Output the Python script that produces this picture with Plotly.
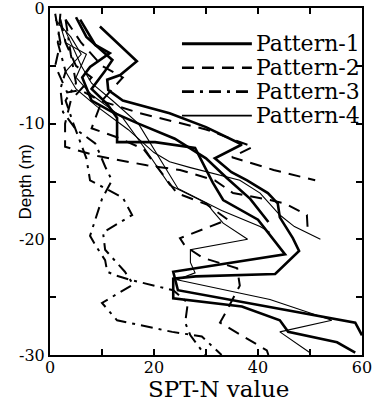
import plotly.graph_objects as go

# ---------------- data (SPT-N value, depth in m) ----------------
# Pattern-1 (thick solid)
p1_a_n = [9.6, 16.7, 13.5, 11, 11.2, 14, 23, 30, 36.9, 31.7, 34.9, 37.9, 41.9, 43.8, 44.2, 46.7, 47.9, 43.3, 28, 23.7, 23.7, 36.9, 44.2, 45.8, 55.2, 58.7]
p1_a_d = [-1.6, -4.6, -5.8, -6.2, -7.1, -8, -9.1, -10.3, -11.8, -13, -14.2, -14.9, -16, -16.9, -18.1, -19.9, -21, -23, -23.2, -23.4, -25.1, -25.8, -27, -28, -28.9, -29.8]
p1_b_n = [5, 7, 12, 10.5, 8, 11, 12.9, 12.9, 20.2, 23, 27.9, 31.3, 33.3, 40, 45.2, 23.7, 24.6, 58.7, 60]
p1_b_d = [-0.8, -2.5, -4.5, -5.5, -7, -8.3, -9.5, -11.6, -11.6, -11.8, -12.1, -15.1, -16.6, -18.3, -21.3, -22.8, -24.4, -27.2, -28.3]
p1_c_n = [5.8, 8.7, 11.5, 7.7, 6.2, 8, 12, 17, 24, 30, 34, 38.5, 42]
p1_c_d = [-1, -3.2, -3.9, -5.1, -6, -8, -9, -10, -11.3, -13, -14.7, -16.5, -18.5]

# Pattern-2 (dashed)
p2_a_n = [1, 2, 1, 3.3, 5.8, 9.6, 17.3, 22.5, 30, 39, 35, 43, 51]
p2_a_d = [-0.5, -3, -5, -7.3, -7.1, -8, -9.1, -9.7, -10.5, -12, -12.9, -14, -14.9]
p2_b_n = [2, 3, 5, 8, 4, 2.9, 2.9, 9.2, 18.6, 25, 31.7, 35.2, 42.3, 45.2, 49.4, 49.6]
p2_b_d = [-1, -3, -5, -6, -8, -10, -12, -12.8, -13.6, -14, -14.9, -16, -16.6, -16.9, -17.9, -19.5]
p2_c_n = [3, 6, 10, 14, 10, 8, 13, 18, 24.4, 30.2, 34.2, 25, 26, 29.4, 36, 36.5, 33.7, 32.7, 41.7, 42]
p2_c_d = [-1, -3, -5, -6, -8, -10.4, -11.2, -12.2, -16, -17, -18.3, -19.9, -20.6, -21.6, -22.5, -24, -26.4, -27.2, -29.6, -30]

# Pattern-3 (dash-dot)
p3_a_n = [2, 1.5, 3, 2, 2.5, 5, 8.7, 10.6, 11.9, 10, 7.7, 9, 10.6, 11, 12.5, 15.4, 23.7, 26.5, 26, 27, 29.8]
p3_a_d = [-0.5, -3, -5.5, -7, -9, -10.5, -11.7, -13.7, -14.9, -16.5, -19.7, -20.7, -21.8, -22.8, -23.1, -23.5, -24.4, -25.5, -27.2, -28.3, -30]
p3_b_n = [3, 4, 5, 3, 4.5, 7, 7.7, 11.2, 14, 15.8, 10.2, 10.6, 14.4, 16, 10, 12.9, 23.5, 29.2, 33]
p3_b_d = [-1, -4, -6.5, -8, -10, -13, -14.9, -15.7, -16.4, -17.9, -19.4, -20.9, -22.8, -23.9, -25.5, -27, -28, -28.4, -30]

# Pattern-4 (thin solid)
p4_a_n = [1, 4, 6, 3, 5, 9, 15, 20, 23, 27, 36.5, 40.4, 44.2, 47, 52]
p4_a_d = [-1, -2.5, -4, -5.5, -7, -8.5, -10.5, -12.5, -13.3, -13.8, -14.9, -16, -17.9, -18.9, -20]
p4_b_n = [2, 3, 7, 5, 8, 14, 18, 23, 30.2, 31.2, 33.3, 38, 27, 27, 27.9, 24.4, 42.3, 54.2, 44.2, 50]
p4_b_d = [-1.5, -3, -4, -6, -7.5, -9.5, -12, -15.3, -16.9, -17.5, -18.6, -20, -20.9, -22, -22.9, -23.5, -25.2, -27, -28, -29.8]
p4_c_n = [3, 6, 8, 12, 17, 21, 24.6, 33, 40.4, 42.3]
p4_c_d = [-2, -5, -6.5, -8, -10, -13, -15.6, -17.5, -18.9, -19.4]

x_tick_vals = [0, 10, 20, 30, 40, 50, 60]
x_tick_text = ["0", "", "20", "", "40", "", "60"]
y_tick_vals = [0, -5, -10, -15, -20, -25, -30]
y_tick_text = ["0", "", "-10", "", "-20", "", "-30"]

legend_names = ["Pattern-1", "Pattern-2", "Pattern-3", "Pattern-4"]
x_title = "SPT-N value"
y_title = "Depth (m)"

SERIF = "DejaVu Serif"
SANS = "Liberation Sans, Arial, DejaVu Sans, sans-serif"

# ---------------- styles ----------------
styles = {
    "Pattern-1": dict(width=2.6, dash="solid"),
    "Pattern-2": dict(width=2.0, dash="12px,8px"),
    "Pattern-3": dict(width=2.0, dash="12px,6px,3px,6px"),
    "Pattern-4": dict(width=1.1, dash="solid"),
}

series = [
    ("Pattern-1", p1_a_n, p1_a_d), ("Pattern-1", p1_b_n, p1_b_d), ("Pattern-1", p1_c_n, p1_c_d),
    ("Pattern-2", p2_a_n, p2_a_d), ("Pattern-2", p2_b_n, p2_b_d), ("Pattern-2", p2_c_n, p2_c_d),
    ("Pattern-3", p3_a_n, p3_a_d), ("Pattern-3", p3_b_n, p3_b_d),
    ("Pattern-4", p4_a_n, p4_a_d), ("Pattern-4", p4_b_n, p4_b_d), ("Pattern-4", p4_c_n, p4_c_d),
]

fig = go.Figure()
for name, xs, ys in series:
    st = styles[name]
    fig.add_trace(go.Scatter(x=xs, y=ys, mode="lines", showlegend=False,
                             line=dict(color="black", width=st["width"], dash=st["dash"])))

# manual legend (paper coordinates)
row_y = [0.897, 0.828, 0.759, 0.690]
for name, yy in zip(legend_names, row_y):
    st = styles[name]
    fig.add_trace(go.Scatter(x=[0.423, 0.647], y=[yy, yy], xaxis="x2", yaxis="y2", mode="lines",
                             showlegend=False, hoverinfo="skip",
                             line=dict(color="black", width=st["width"] + 0.6, dash=st["dash"])))
    fig.add_annotation(x=0.655, y=yy, xref="paper", yref="paper", text=name, showarrow=False,
                       xanchor="left", yanchor="middle",
                       font=dict(family=SERIF, size=22, color="black"))

# axis titles as annotations for precise placement
fig.add_annotation(x=0.54, y=-0.138, xref="paper", yref="paper", text=x_title, showarrow=False,
                   xanchor="center", yanchor="bottom", borderpad=0,
                   font=dict(family=SERIF, size=23, color="black"))
fig.add_annotation(x=-0.08, y=0.50, xref="paper", yref="paper", text=y_title, showarrow=False,
                   textangle=-90, xanchor="center", yanchor="middle",
                   font=dict(family=SANS, size=17, color="black"))

axis_common = dict(showgrid=False, zeroline=False, showline=True, linecolor="black", linewidth=2,
                   mirror="ticks", ticks="inside", ticklen=6, tickwidth=1.5, tickcolor="black",
                   automargin=False, ticklabeloverflow="allow",
                   tickfont=dict(family=SERIF, size=16, color="black"))

fig.update_layout(
    width=373, height=403,
    margin=dict(l=50, r=11, t=8, b=48, autoexpand=False),
    paper_bgcolor="white", plot_bgcolor="white",
    xaxis=dict(range=[0, 60], tickvals=x_tick_vals, ticktext=x_tick_text, ticklabelstandoff=-3,
               **axis_common),
    yaxis=dict(range=[-30, 0], tickvals=y_tick_vals, ticktext=y_tick_text, **axis_common),
    xaxis2=dict(range=[0, 1], domain=[0, 1], visible=False, overlaying="x"),
    yaxis2=dict(range=[0, 1], domain=[0, 1], visible=False, overlaying="y"),
    showlegend=False,
)

fig.write_html("out.html", config={"displayModeBar": False},
               post_script="document.body.style.margin='0px';document.body.style.padding='0px';")
